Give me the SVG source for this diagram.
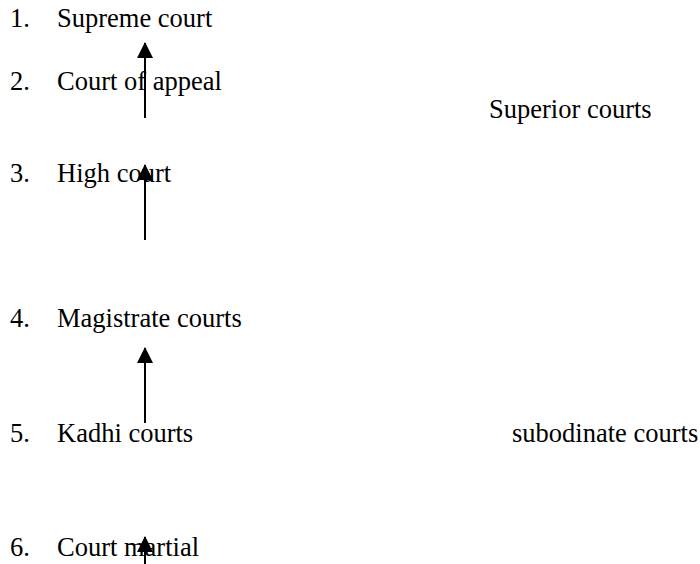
<svg xmlns="http://www.w3.org/2000/svg" width="700" height="564" viewBox="0 0 700 564">
<style>
text{font-family:"Liberation Serif","Times New Roman",serif;font-size:26.5px;fill:#000}
.ln{stroke:#000;stroke-width:2;fill:none}
</style>
<defs>
<marker id="ah" viewBox="0 0 16 16" refX="15" refY="8" markerWidth="16" markerHeight="16" markerUnits="userSpaceOnUse" orient="auto">
<path d="M0,0 L16,8 L0,16 Z" fill="#000"/>
</marker>
</defs>
<rect width="700" height="564" fill="#fff"/>
<g id="n1"><text x="10" y="27">1.</text><text x="57" y="27">Supreme court</text></g>
<g id="n2"><text x="10" y="90">2.</text><text x="57" y="90">Court of appeal</text></g>
<g id="n3"><text x="10" y="182">3.</text><text x="57" y="182">High court</text></g>
<g id="n4"><text x="10" y="327">4.</text><text x="57" y="327">Magistrate courts</text></g>
<g id="n5"><text x="10" y="442">5.</text><text x="57" y="442">Kadhi courts</text></g>
<g id="n6"><text x="10" y="556">6.</text><text x="57" y="556">Court martial</text></g>
<g id="l1"><text x="489" y="118">Superior courts</text></g>
<g id="l2"><text x="512" y="442">subodinate courts</text></g>
<g id="connectors">
<line class="ln" x1="145" y1="118" x2="145" y2="43" marker-end="url(#ah)"/>
<line class="ln" x1="145" y1="240" x2="145" y2="165" marker-end="url(#ah)"/>
<line class="ln" x1="145" y1="423" x2="145" y2="348" marker-end="url(#ah)"/>
<line class="ln" x1="145" y1="564" x2="145" y2="537" marker-end="url(#ah)"/>
</g>
</svg>
